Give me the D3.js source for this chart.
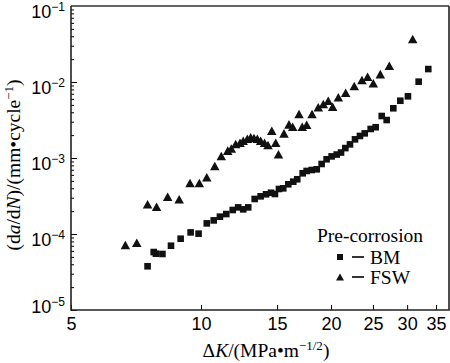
<!DOCTYPE html>
<html>
<head>
<meta charset="utf-8">
<script src="https://cdn.jsdelivr.net/npm/d3@7"></script>
<style>
  body { margin: 0; background: #fff; }
  svg { display: block; font-family: "Liberation Serif", "DejaVu Serif", serif; }
  .axis path { display: none; }
  .axis line { stroke: #000; stroke-width: 1px; }
</style>
</head>
<body>
<div id="chart"></div>
<script>
// values: dK in MPa*m^1/2, da/dN in mm/cycle
var bmK = [7.52, 7.77, 7.86, 8.14, 8.52, 8.97, 9.46, 9.87, 10.31, 10.70, 11.06, 11.44, 11.84, 12.19,
  12.52, 12.86, 13.31, 13.74, 14.14, 14.52, 14.83, 15.15, 15.50, 15.92, 16.35, 16.70, 17.19, 17.56,
  18.04, 18.53, 19.02, 19.53, 20.06, 20.61, 21.09, 21.58, 22.12, 22.72, 23.33, 23.93, 24.70, 25.37,
  26.20, 26.90, 27.87, 28.93, 30.13, 31.90, 33.58];
var bmRate = [3.76e-5, 5.79e-5, 5.51e-5, 5.46e-5, 7.01e-5, 8.67e-5, 1.05e-4, 1.01e-4, 1.38e-4, 1.51e-4,
  1.69e-4, 1.83e-4, 2.07e-4, 2.24e-4, 2.11e-4, 2.24e-4, 2.89e-4, 3.13e-4, 3.33e-4, 3.49e-4, 3.36e-4,
  3.91e-4, 3.99e-4, 4.51e-4, 4.88e-4, 5.25e-4, 6.29e-4, 6.75e-4, 6.95e-4, 7.10e-4, 8.34e-4, 9.62e-4,
  1.05e-3, 1.11e-3, 1.18e-3, 1.35e-3, 1.51e-3, 1.76e-3, 1.95e-3, 2.11e-3, 2.41e-3, 2.54e-3, 3.57e-3,
  3.16e-3, 4.51e-3, 5.67e-3, 6.48e-3, 1.01e-2, 1.48e-2];

var fswK = [6.68, 7.10, 7.52, 7.89, 8.37, 8.90, 9.43, 9.91, 10.31, 10.76, 11.14, 11.53, 11.75, 12.03,
  12.31, 12.52, 12.80, 13.03, 13.26, 13.50, 13.74, 14.03, 14.29, 14.58, 14.89, 15.11, 15.56, 15.98,
  16.30, 16.86, 17.15, 17.56, 18.07, 18.68, 19.19, 19.70, 20.17, 20.79, 21.62, 22.63, 23.58, 24.30,
  25.05, 26.00, 27.28, 30.90];
var fswRate = [7.16e-5, 7.69e-5, 2.46e-4, 2.29e-4, 3.10e-4, 2.86e-4, 4.69e-4, 4.69e-4, 5.57e-4, 7.85e-4,
  1.06e-3, 1.25e-3, 1.33e-3, 1.53e-3, 1.59e-3, 1.69e-3, 1.79e-3, 1.87e-3, 1.83e-3, 1.79e-3, 1.69e-3,
  1.59e-3, 1.48e-3, 2.29e-3, 1.59e-3, 1.12e-3, 2.11e-3, 2.77e-3, 2.58e-3, 3.79e-3, 2.58e-3, 2.74e-3,
  3.79e-3, 4.65e-3, 5.14e-3, 5.67e-3, 4.73e-3, 6.29e-3, 7.23e-3, 8.86e-3, 1.06e-2, 1.17e-2, 9.61e-3,
  1.27e-2, 1.64e-2, 3.68e-2];

var xTicks = [5, 10, 15, 20, 25, 30, 35];
var yExps = [-5, -4, -3, -2, -1];
var legendTitle = "Pre-corrosion";
var seriesNames = ["BM", "FSW"];

var W = 450, H = 363;
var pL = 71, pR = 449, pT = 6, pB = 310;

var x = d3.scaleLog().domain([5, 37.5]).range([pL, pR]);
var y = d3.scaleLog().domain([1e-5, 1e-1]).range([pB, pT]);

var svg = d3.select("#chart").append("svg").attr("width", W).attr("height", H);

// minor y ticks
var yMinor = [];
yExps.slice(0, 4).forEach(function(e) {
  for (var k = 2; k <= 9; k++) yMinor.push(k * Math.pow(10, e));
});
svg.append("g").attr("class", "axis").attr("transform", "translate(" + pL + ",0)")
  .call(d3.axisLeft(y).tickValues(yMinor).tickSizeInner(-3).tickSizeOuter(0).tickFormat(""));

// major y ticks with labels 10^n (labels sit a bit below the tick, bottom one above)
var yAx = svg.append("g").attr("class", "axis").attr("transform", "translate(" + pL + ",0)")
  .call(d3.axisLeft(y).tickValues(yExps.map(function(e) { return Math.pow(10, e); }))
    .tickSizeInner(-6).tickSizeOuter(0).tickPadding(0).tickFormat(""));
yAx.selectAll(".tick").each(function(d) {
  var n = Math.round(-Math.log10(d));
  var t = d3.select(this).append("text").attr("x", -6).attr("y", n == 5 ? 2 : 11)
    .attr("text-anchor", "end").attr("fill", "#000").style("font-size", "18px");
  t.append("tspan").text("10");
  t.append("tspan").attr("dy", -7).style("font-size", "12px").text("\u2212" + n);
});

// x ticks
svg.append("g").attr("class", "axis").attr("transform", "translate(0," + pB + ")")
  .call(d3.axisBottom(x).tickValues(xTicks).tickSizeInner(-5).tickSizeOuter(0).tickFormat(""))
  .selectAll(".tick").append("text").attr("y", 20).attr("text-anchor", "middle")
  .attr("fill", "#000").style("font-size", "18px").text(function(d) { return d; });

// frame
svg.append("path").attr("d", "M" + pL + "," + pT + "H" + pR)
  .style("stroke", "#666").style("stroke-width", 2.2).style("fill", "none");
svg.append("path").attr("d", "M" + pR + "," + pT + "V" + pB + "H" + pL + "V" + pT)
  .style("stroke", "#222").style("stroke-width", 1.6).style("fill", "none");

// axis titles
var xt = svg.append("text").attr("x", 266).attr("y", 357).attr("text-anchor", "middle")
  .style("font-size", "19.5px");
xt.append("tspan").text("\u0394");
xt.append("tspan").style("font-style", "italic").text("K");
xt.append("tspan").text("/(MPa\u2022m");
xt.append("tspan").attr("dy", -7).style("font-size", "13px").text("\u22121/2");
xt.append("tspan").attr("dy", 7).text(")");

var yt = svg.append("text").attr("transform", "translate(20,165) rotate(-90)")
  .attr("text-anchor", "middle").style("font-size", "19.5px");
yt.append("tspan").text("(d");
yt.append("tspan").style("font-style", "italic").text("a");
yt.append("tspan").text("/d");
yt.append("tspan").style("font-style", "italic").text("N");
yt.append("tspan").text(")/(mm\u2022cycle");
yt.append("tspan").attr("dy", -7).style("font-size", "13px").text("\u22121");
yt.append("tspan").attr("dy", 7).text(")");

// markers
function tri(s) {
  var h = s * 0.9;
  return "M0," + (-h / 2) + "L" + (s / 2) + "," + (h / 2) + "L" + (-s / 2) + "," + (h / 2) + "Z";
}
var bm = bmK.map(function(k, i) { return [k, bmRate[i]]; });
var fsw = fswK.map(function(k, i) { return [k, fswRate[i]]; });

svg.append("g").selectAll("rect").data(bm).enter().append("rect")
  .attr("x", function(d) { return x(d[0]) - 3.3; })
  .attr("y", function(d) { return y(d[1]) - 3.3; })
  .attr("width", 6.6).attr("height", 6.6).style("fill", "#111");

svg.append("g").selectAll("path").data(fsw).enter().append("path")
  .attr("transform", function(d) { return "translate(" + x(d[0]) + "," + y(d[1]) + ")"; })
  .attr("d", tri(9.5)).style("fill", "#111");

// legend
var lg = svg.append("g");
lg.append("text").attr("x", 370).attr("y", 242).attr("text-anchor", "middle")
  .style("font-size", "19.5px").text(legendTitle);
seriesNames.forEach(function(name, i) {
  var ly = 257 + i * 20;
  if (i == 0) {
    lg.append("rect").attr("x", 337).attr("y", ly - 3).attr("width", 6).attr("height", 6).style("fill", "#111");
  } else {
    lg.append("path").attr("transform", "translate(340," + ly + ")").attr("d", tri(8)).style("fill", "#111");
  }
  lg.append("line").attr("x1", 352).attr("x2", 364).attr("y1", ly).attr("y2", ly)
    .style("stroke", "#000").style("stroke-width", 1.6);
  lg.append("text").attr("x", 370).attr("y", ly + 6.5).style("font-size", "19.5px").text(name);
});
</script>
</body>
</html>
